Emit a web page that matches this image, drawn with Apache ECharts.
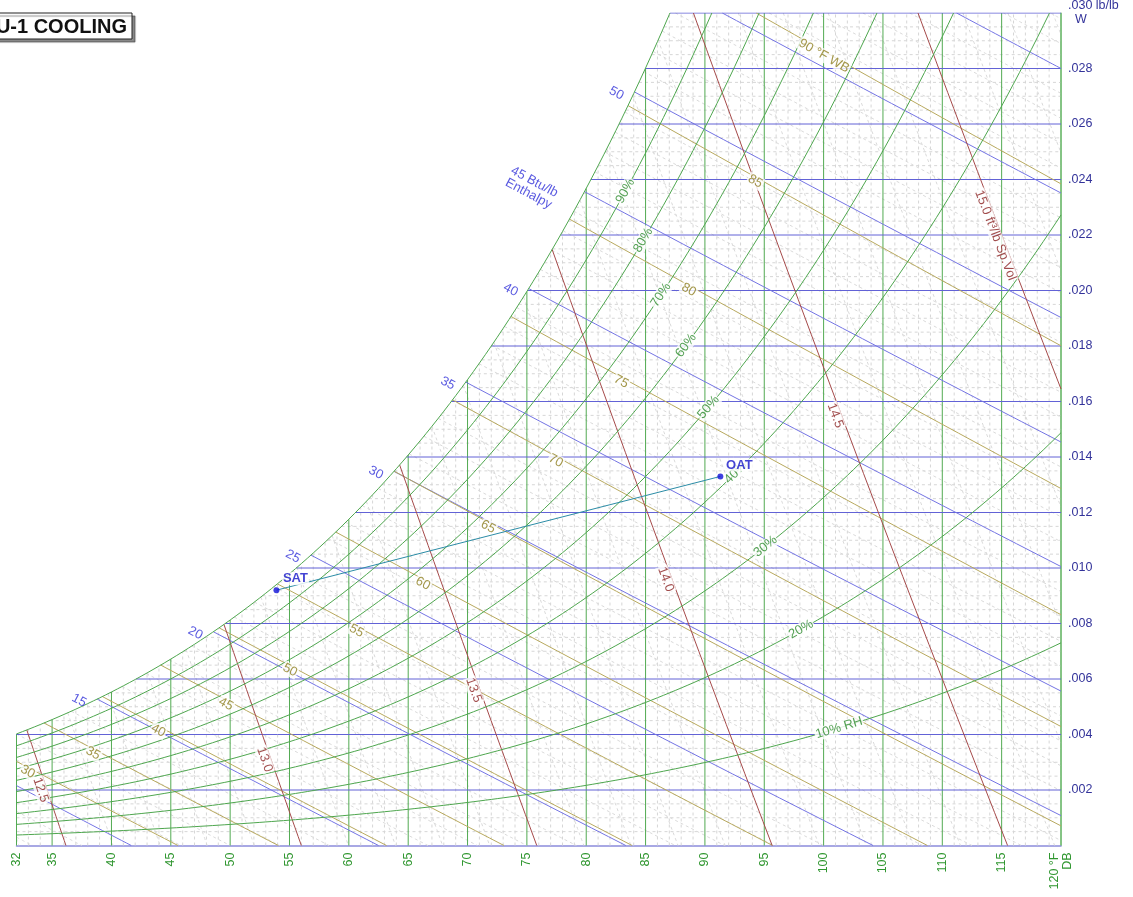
<!DOCTYPE html>
<html>
<head>
<meta charset="utf-8">
<title>J-1 Cooling - psychrometric chart</title>
<script src="https://cdn.jsdelivr.net/npm/echarts@6/dist/echarts.min.js"></script>
<style>
  html, body { margin: 0; padding: 0; background: #fff; }
  #chart { width: 1133px; height: 897px; }
</style>
</head>
<body>
<div id="chart"></div>
<script>
// ---- values ----
const dbTicks = [32, 35, 40, 45, 50, 55, 60, 65, 70, 75, 80, 85, 90, 95, 100, 105, 110, 115, 120];
const wTicks = [0.002, 0.004, 0.006, 0.008, 0.010, 0.012, 0.014, 0.016, 0.018, 0.020, 0.022, 0.024, 0.026, 0.028, 0.030];
const rhLevels = [0.1, 0.2, 0.3, 0.4, 0.5, 0.6, 0.7, 0.8, 0.9];
const rhLabels = ['10% RH', '20%', '30%', '40%', '50%', '60%', '70%', '80%', '90%'];
const rhLabelDb = [101.3, 98.1, 95.1, 92.6, 90.3, 88.4, 86.3, 84.8, 83.3];
const wbLevels = [30, 35, 40, 45, 50, 55, 60, 65, 70, 75, 80, 85, 90];
const wbLabelDb = [33.1, 38.6, 44.1, 49.8, 55.2, 60.8, 66.4, 71.9, 77.6, 83.1, 88.8, 94.4, 100.2];
const enthalpyLevels = [10, 15, 20, 25, 30, 35, 40, 45, 50, 55, 60];
const enthalpyLabeled = [15, 20, 25, 30, 35, 40, 45, 50];
const volumeLevels = [12.5, 13.0, 13.5, 14.0, 14.5, 15.0];
const volumeLabelW = [0.0020, 0.0031, 0.0056, 0.0096, 0.0155, 0.0220];
const processNames = ['SAT', 'OAT'];
const processDb = [53.9, 91.3];
const processW = [0.0092, 0.0133];

// ---- chart frame ----
const DB_MIN = 32, DB_MAX = 120, W_MAX = 0.030;
const GRID = { left: 16.5, right: 72, top: 13, bottom: 51.5 };
const PX_F = (1133 - GRID.left - GRID.right) / (DB_MAX - DB_MIN);
const PX_W = (897 - GRID.top - GRID.bottom) / W_MAX;
const FONT = '"Liberation Sans", Arial, sans-serif';

// ---- psychrometric relations (IP units, T in F) ----
const P_SEA = 101.325;  // kPa
const RH_BIAS = 0.065;  // source chart draws humid curves ~6.5% high at saturation
function psat(tf) {
  const t = (tf - 32) / 1.8;
  return 0.61121 * Math.exp((18.678 - t / 234.5) * (t / (257.14 + t)));
}
function wOf(pw, p) { return 0.622 * pw / (p - pw); }
function wRh(tf, rh) { return wOf(rh * psat(tf), P_SEA) * (1 + RH_BIAS * rh); }
function wTop(tf) { return Math.min(wRh(tf, 1), W_MAX); }
function wEnth(h, tf) { return (h - 0.240 * tf) / (1061 + 0.444 * tf); }
function wWetBulb(twb, tf) {
  const ws = wOf(psat(twb), P_SEA);
  return ((1093 - 0.556 * twb) * ws - 0.240 * (tf - twb)) / (1093 + 0.444 * tf - twb);
}
function wVol(v, tf) { return (v * 14.696 / (0.370486 * (tf + 459.67)) - 1) / 1.607858; }
function tVol(v, w) { return v * 14.696 / (0.370486 * (1 + 1.607858 * w)) - 459.67; }
function tSatAt(w) {
  let a = DB_MIN - 5, b = DB_MAX + 10;
  for (let i = 0; i < 60; i++) { const m = (a + b) / 2; if (wRh(m, 1) < w) a = m; else b = m; }
  return (a + b) / 2;
}
function angle(f, t) {
  const d = (f(t + 0.25) - f(t - 0.25)) / 0.5;
  return Math.atan(d * PX_W / PX_F) * 180 / Math.PI;
}

// falling line clipped between saturation/top and W = 0
function segment(fn) {
  let t0 = DB_MIN, t1 = DB_MAX;
  if (fn(t0) > wTop(t0)) {
    if (fn(DB_MAX) > wTop(DB_MAX)) return null;
    let a = DB_MIN, b = DB_MAX;
    for (let i = 0; i < 60; i++) { const m = (a + b) / 2; if (fn(m) > wTop(m)) a = m; else b = m; }
    t0 = b;
  }
  if (fn(t1) < 0) {
    let a = t0, b = DB_MAX;
    for (let i = 0; i < 60; i++) { const m = (a + b) / 2; if (fn(m) > 0) a = m; else b = m; }
    t1 = a;
  }
  if (t1 <= t0) return null;
  const pts = [];
  for (let i = 0; i <= 24; i++) {
    const t = t0 + (t1 - t0) * i / 24;
    pts.push([t, Math.max(0, Math.min(fn(t), wTop(t)))]);
  }
  return pts;
}

function rhCurve(rh) {
  const pts = [];
  for (let i = 0; i <= (DB_MAX - DB_MIN) * 2; i++) {
    const t = DB_MIN + i / 2;
    if (wRh(t, rh) > W_MAX) {
      let a = t - 0.5, b = t;
      for (let k = 0; k < 50; k++) { const m = (a + b) / 2; if (wRh(m, rh) > W_MAX) b = m; else a = m; }
      pts.push([a, W_MAX]);
      break;
    }
    pts.push([t, wRh(t, rh)]);
  }
  return pts;
}

const isMult = (v, s) => Math.abs(v / s - Math.round(v / s)) < 1e-6;

// ---- minor grid levels ----
const dbMinor = [], wMinor = [], hMinor = [], vMinor = [];
for (let t = 33; t < 120; t++) if (!isMult(t, 5)) dbMinor.push(t);
for (let k = 1; k < 60; k++) { const w = k * 0.0005; if (!isMult(w, 0.002)) wMinor.push(w); }
for (let h = 8; h <= 62; h++) if (!isMult(h, 5)) hMinor.push(h);
for (let k = 124; k <= 153; k++) if (k % 5 !== 0) vMinor.push(k / 10);

const dbLine = t => [[t, 0], [t, wTop(t)]];
const wLine = w => [[Math.max(DB_MIN, tSatAt(w)), w], [DB_MAX, w]];

function polySeries(list, color, z, dashed) {
  return {
    type: 'lines', coordinateSystem: 'cartesian2d', polyline: true, silent: true, z: z,
    lineStyle: { color: color, width: 1, opacity: 1, type: dashed ? [3, 3] : 'solid' },
    data: list.filter(Boolean).map(c => ({ coords: c }))
  };
}

function labelSeries(items, color, extra) {
  return {
    type: 'scatter', symbolSize: 1, silent: true, z: 10,
    itemStyle: { color: 'rgba(0,0,0,0)' },
    label: Object.assign({
      show: true, position: 'inside', color: color, fontSize: 13, fontFamily: FONT,
      backgroundColor: '#fff', padding: [0, 1]
    }, extra || {}),
    data: items
  };
}

// ---- labels ----
const rhItems = rhLevels.map((rh, i) => {
  const t = rhLabelDb[i];
  return { value: [t, wRh(t, rh)], label: { formatter: rhLabels[i], rotate: angle(x => wRh(x, rh), t) } };
});
const wbItems = wbLevels.map((twb, i) => {
  const t = wbLabelDb[i];
  const f = x => wWetBulb(twb, x);
  return { value: [t, f(t)], label: { formatter: twb === 90 ? '90 °F WB' : String(twb), rotate: angle(f, t) } };
});
const volItems = volumeLevels.map((v, i) => {
  const w = volumeLabelW[i], t = tVol(v, w);
  return { value: [t, w], label: { formatter: v === 15 ? '15.0 ft³/lb Sp.Vol' : v.toFixed(1), rotate: angle(x => wVol(v, x), t) } };
});
const enthItems = enthalpyLabeled.map(h => {
  const seg = segment(t => wEnth(h, t));
  return {
    value: seg[0],
    label: {
      formatter: h === 45 ? '45 Btu/lb\nEnthalpy' : String(h),
      rotate: angle(x => wEnth(h, x), seg[0][0]),
      offset: h === 45 ? [-20, 20] : [-5, 8]   // offsets are in the rotated label frame
    }
  };
});

const chart = echarts.init(document.getElementById('chart'), null, { renderer: 'canvas' });
chart.setOption({
  animation: false,
  backgroundColor: '#fff',
  grid: Object.assign({ containLabel: false, outerBoundsMode: 'none' }, GRID),
  xAxis: {
    type: 'value', min: DB_MIN, max: DB_MAX, interval: 1,
    splitLine: { show: false }, axisTick: { show: false },
    axisLine: { show: true, lineStyle: { color: '#8c8cdc', width: 1.5 } },
    axisLabel: {
      rotate: 90, margin: 7, color: '#2f962f', fontSize: 12.5, fontFamily: FONT, lineHeight: 13,
      formatter: v => (v === 120 ? '120 °F\nDB' : (dbTicks.indexOf(v) >= 0 ? String(v) : ''))
    }
  },
  yAxis: {
    type: 'value', position: 'right', min: 0, max: W_MAX, interval: 0.002,
    splitLine: { show: false }, axisTick: { show: false },
    axisLine: { show: true, lineStyle: { color: '#9fd39f', width: 1.5 } },
    axisLabel: {
      margin: 7, color: '#33339a', fontSize: 12.5, fontFamily: FONT, lineHeight: 14,
      formatter: v => {
        if (v === 0) return '';
        const s = '.' + v.toFixed(3).split('.')[1];
        return v >= 0.0299 ? s + ' lb/lb\n  W' : s;
      }
    }
  },
  graphic: [
    {
      type: 'rect', z: 100,
      shape: { x: -10, y: 13, width: 142, height: 26 },
      style: { fill: '#fff', stroke: '#222', lineWidth: 1, shadowColor: 'rgba(0,0,0,0.45)', shadowOffsetX: 3, shadowOffsetY: 3, shadowBlur: 1 }
    },
    {
      type: 'text', z: 101,
      style: { text: 'AHU-1 COOLING', x: 127, y: 27, align: 'right', verticalAlign: 'middle', font: 'bold 20px ' + FONT, fill: '#111' }
    }
  ],
  series: [
    // light dashed minor grid
    polySeries(dbMinor.map(dbLine), '#d6d6d6', 1, true),
    polySeries(wMinor.map(wLine), '#d6d6d6', 1, true),
    polySeries(hMinor.map(h => segment(t => wEnth(h, t))), '#dadada', 1, true),
    polySeries(vMinor.map(v => segment(t => wVol(v, t))), '#dadada', 1, true),
    // main lines
    polySeries(dbTicks.map(dbLine), '#52aa52', 3),
    polySeries(wTicks.map(wLine), '#6262d6', 3),
    polySeries(enthalpyLevels.map(h => segment(t => wEnth(h, t))), '#7474e4', 3),
    polySeries(wbLevels.map(twb => segment(t => wWetBulb(twb, t))), '#b8a95e', 3),
    polySeries(volumeLevels.map(v => segment(t => wVol(v, t))), '#a54a4a', 3),
    polySeries(rhLevels.map(rhCurve), '#4ea64e', 4),
    polySeries([rhCurve(1)], '#4ea64e', 4),
    // labels along the lines
    labelSeries(rhItems, '#2a8a2a'),
    labelSeries(wbItems, '#8c7d1e', { offset: [0, 4] }),
    labelSeries(volItems, '#8a1f1f', { offset: [-2, 6] }),
    labelSeries(enthItems, '#2f2fd8', { position: 'left', distance: 3, backgroundColor: 'transparent', padding: 0, align: 'right' }),
    // SAT -> OAT process
    {
      type: 'line', z: 11, silent: true, symbol: 'none',
      lineStyle: { color: '#2b8ca6', width: 1 },
      data: processDb.map((t, i) => [t, processW[i]])
    },
    {
      type: 'scatter', z: 12, silent: true, symbolSize: 6,
      itemStyle: { color: '#1010d8' },
      label: {
        show: true, position: 'top', distance: 2, offset: [19, 0],
        formatter: p => p.name, color: '#1414c8', fontWeight: 'bold', fontSize: 13, fontFamily: FONT,
        backgroundColor: '#fff', padding: [0, 1]
      },
      data: processNames.map((n, i) => ({ name: n, value: [processDb[i], processW[i]] }))
    }
  ]
});
</script>
</body>
</html>
